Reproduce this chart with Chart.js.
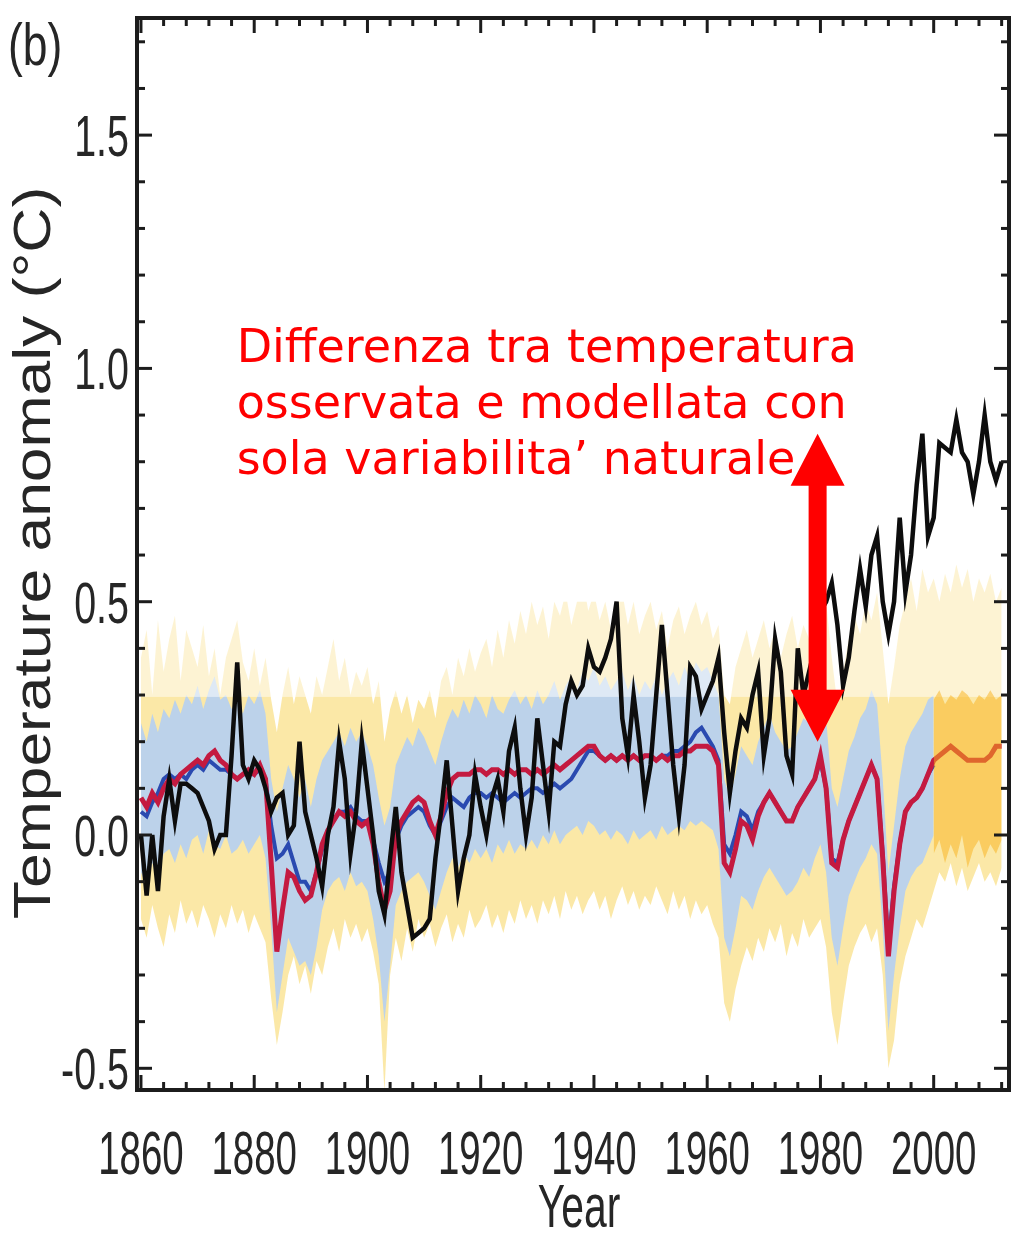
<!DOCTYPE html>
<html>
<head>
<meta charset="utf-8">
<script src="https://cdn.jsdelivr.net/npm/chart.js@4.4.1/dist/chart.umd.min.js"></script>
<style>
html,body{margin:0;padding:0;background:#fff;}
canvas{display:block;}
</style>
</head>
<body>
<canvas id="c" width="1019" height="1239"></canvas>
<script>
// ---------------- DATA ----------------
const YEAR_START = 1860;
const years = Array.from({length: 153}, (_, i) => YEAR_START + i);          // 1860..2012
const yearsModelBlue = Array.from({length: 141}, (_, i) => YEAR_START + i); // 1860..2000
const yearsRecent = Array.from({length: 13}, (_, i) => 2000 + i);           // 2000..2012

// Observed temperature anomaly (black)
const observed = [
  0.00,-0.13,0.00,-0.12,0.04,0.12,0.03,0.11,0.11,0.10,
  0.09,0.06,0.03,-0.03,0.00,0.00,0.17,0.37,0.15,0.12,
  0.16,0.14,0.10,0.05,0.08,0.09,0.00,0.02,0.20,0.05,
  0.00,-0.05,-0.11,0.00,0.06,0.20,0.12,-0.04,0.05,0.20,
  0.10,0.00,-0.12,-0.17,-0.05,0.06,-0.08,-0.15,-0.22,-0.21,
  -0.20,-0.18,-0.05,0.05,0.16,0.02,-0.12,-0.05,0.00,0.13,
  0.06,0.00,0.08,0.12,0.05,0.18,0.23,0.10,0.00,0.08,
  0.25,0.15,0.05,0.20,0.19,0.28,0.33,0.30,0.32,0.40,
  0.36,0.35,0.38,0.42,0.50,0.25,0.17,0.30,0.20,0.08,
  0.15,0.30,0.45,0.30,0.15,0.04,0.15,0.36,0.34,0.27,
  0.30,0.33,0.38,0.22,0.09,0.18,0.25,0.23,0.30,0.35,
  0.17,0.25,0.42,0.35,0.17,0.13,0.40,0.30,0.35,0.40,
  0.48,0.50,0.54,0.45,0.32,0.38,0.48,0.57,0.49,0.60,
  0.64,0.50,0.43,0.50,0.68,0.52,0.60,0.75,0.86,0.64,
  0.68,0.84,0.83,0.82,0.89,0.82,0.80,0.73,0.80,0.90,
  0.80,0.76,0.80
];

// Natural-forcing model mean (red)
const modelMeanRed = [
  0.08,0.06,0.09,0.07,0.10,0.12,0.11,0.13,0.14,0.15,
  0.16,0.15,0.17,0.18,0.16,0.15,0.13,0.12,0.13,0.14,
  0.13,0.15,0.12,-0.06,-0.25,-0.16,-0.08,-0.09,-0.12,-0.14,
  -0.13,-0.08,-0.02,0.01,0.03,0.05,0.04,0.05,0.03,0.02,
  0.03,-0.02,-0.10,-0.16,-0.12,0.00,0.03,0.05,0.07,0.08,
  0.07,0.03,0.00,0.04,0.09,0.12,0.13,0.13,0.13,0.14,
  0.14,0.13,0.14,0.14,0.13,0.14,0.13,0.14,0.14,0.13,
  0.14,0.13,0.14,0.15,0.14,0.15,0.16,0.17,0.18,0.19,
  0.19,0.17,0.16,0.17,0.16,0.17,0.16,0.17,0.16,0.17,
  0.17,0.16,0.17,0.16,0.17,0.17,0.18,0.18,0.19,0.19,
  0.19,0.18,0.15,-0.06,-0.08,-0.03,0.03,0.02,-0.01,0.04,
  0.07,0.09,0.07,0.05,0.03,0.03,0.06,0.08,0.10,0.12,
  0.17,0.10,-0.06,-0.07,-0.01,0.03,0.06,0.09,0.12,0.15,
  0.12,-0.05,-0.26,-0.12,-0.02,0.05,0.07,0.08,0.10,0.13,
  0.16,0.17,0.18,0.19,0.18,0.17,0.16,0.16,0.16,0.16,
  0.17,0.19,0.19
];

// Natural-forcing model mean, second ensemble (blue), 1860-2000
const modelMeanBlue = [
  0.05,0.04,0.07,0.09,0.12,0.13,0.12,0.13,0.12,0.14,
  0.15,0.14,0.16,0.15,0.14,0.14,0.13,0.12,0.13,0.13,
  0.13,0.14,0.12,0.02,-0.05,-0.04,-0.02,-0.06,-0.10,-0.10,
  -0.12,-0.08,-0.03,0.01,0.03,0.05,0.05,0.06,0.04,0.03,
  0.03,-0.01,-0.06,-0.10,-0.08,-0.01,0.02,0.04,0.05,0.06,
  0.05,0.02,0.00,0.03,0.06,0.08,0.07,0.06,0.08,0.09,
  0.09,0.08,0.09,0.08,0.07,0.08,0.09,0.08,0.09,0.10,
  0.10,0.09,0.10,0.11,0.10,0.11,0.12,0.14,0.16,0.18,
  0.18,0.17,0.16,0.17,0.16,0.17,0.16,0.17,0.16,0.17,
  0.17,0.16,0.17,0.17,0.18,0.18,0.19,0.20,0.22,0.23,
  0.21,0.19,0.16,-0.02,-0.04,0.00,0.05,0.04,0.01,0.05,
  0.07,0.09,0.07,0.05,0.03,0.03,0.06,0.08,0.10,0.12,
  0.16,0.10,-0.05,-0.06,-0.01,0.03,0.06,0.09,0.12,0.15,
  0.12,-0.04,-0.24,-0.11,-0.02,0.05,0.07,0.08,0.10,0.13,
  0.15
];

// Envelope of individual simulations (yellow), 1860-2012
const ensembleUpper = [
  0.38,0.44,0.30,0.46,0.35,0.42,0.47,0.33,0.44,0.40,
  0.36,0.45,0.34,0.40,0.30,0.38,0.42,0.46,0.37,0.33,
  0.40,0.32,0.38,0.29,0.22,0.30,0.36,0.28,0.34,0.30,
  0.26,0.34,0.30,0.36,0.42,0.33,0.38,0.30,0.35,0.32,
  0.36,0.28,0.33,0.20,0.27,0.31,0.26,0.30,0.24,0.29,
  0.27,0.31,0.25,0.33,0.36,0.30,0.38,0.34,0.40,0.35,
  0.39,0.42,0.36,0.44,0.38,0.46,0.41,0.48,0.43,0.50,
  0.45,0.49,0.42,0.50,0.47,0.52,0.45,0.50,0.55,0.48,
  0.52,0.46,0.50,0.44,0.49,0.52,0.45,0.50,0.43,0.47,
  0.50,0.44,0.48,0.40,0.46,0.49,0.43,0.47,0.50,0.45,
  0.48,0.42,0.45,0.30,0.28,0.36,0.40,0.44,0.38,0.42,
  0.46,0.40,0.44,0.38,0.43,0.47,0.40,0.45,0.42,0.48,
  0.44,0.50,0.38,0.28,0.35,0.42,0.47,0.43,0.50,0.46,
  0.52,0.40,0.28,0.36,0.45,0.50,0.55,0.48,0.57,0.52,
  0.55,0.50,0.56,0.52,0.58,0.53,0.57,0.50,0.55,0.52,
  0.56,0.50,0.53
];
const ensembleLower = [
  -0.18,-0.22,-0.15,-0.20,-0.24,-0.17,-0.21,-0.14,-0.19,-0.16,
  -0.20,-0.15,-0.18,-0.22,-0.17,-0.20,-0.15,-0.19,-0.16,-0.21,
  -0.17,-0.20,-0.23,-0.35,-0.45,-0.38,-0.30,-0.26,-0.32,-0.28,
  -0.34,-0.27,-0.30,-0.24,-0.20,-0.25,-0.18,-0.22,-0.19,-0.23,
  -0.20,-0.25,-0.32,-0.55,-0.30,-0.22,-0.27,-0.20,-0.25,-0.18,
  -0.22,-0.19,-0.24,-0.20,-0.17,-0.23,-0.19,-0.22,-0.16,-0.20,
  -0.18,-0.15,-0.20,-0.17,-0.21,-0.16,-0.19,-0.14,-0.18,-0.15,
  -0.19,-0.14,-0.17,-0.13,-0.18,-0.12,-0.16,-0.13,-0.17,-0.14,
  -0.12,-0.16,-0.13,-0.18,-0.14,-0.11,-0.15,-0.12,-0.16,-0.13,
  -0.15,-0.11,-0.14,-0.17,-0.12,-0.16,-0.13,-0.18,-0.14,-0.17,
  -0.15,-0.19,-0.22,-0.36,-0.40,-0.33,-0.28,-0.24,-0.27,-0.22,
  -0.25,-0.20,-0.23,-0.19,-0.26,-0.21,-0.24,-0.18,-0.22,-0.20,
  -0.18,-0.24,-0.38,-0.45,-0.36,-0.28,-0.24,-0.21,-0.19,-0.23,
  -0.20,-0.30,-0.50,-0.44,-0.32,-0.26,-0.22,-0.18,-0.20,-0.16,
  -0.12,-0.08,-0.10,-0.06,-0.11,-0.07,-0.12,-0.09,-0.06,-0.10,
  -0.08,-0.11,-0.07
];

// Spread of second ensemble (light blue), 1860-2000
const spreadUpper = [
  0.24,0.20,0.26,0.22,0.27,0.25,0.29,0.26,0.30,0.28,
  0.32,0.27,0.31,0.34,0.29,0.30,0.27,0.29,0.26,0.30,
  0.28,0.31,0.26,0.12,0.05,0.10,0.15,0.12,0.08,0.12,
  0.06,0.12,0.16,0.18,0.20,0.22,0.19,0.23,0.20,0.22,
  0.19,0.15,0.08,0.02,0.06,0.15,0.18,0.21,0.19,0.23,
  0.21,0.18,0.15,0.20,0.24,0.27,0.25,0.29,0.26,0.30,
  0.28,0.25,0.30,0.27,0.26,0.29,0.31,0.28,0.30,0.27,
  0.31,0.28,0.30,0.33,0.29,0.32,0.34,0.31,0.35,0.33,
  0.36,0.32,0.34,0.31,0.33,0.35,0.31,0.34,0.30,0.33,
  0.31,0.34,0.30,0.33,0.35,0.32,0.36,0.33,0.37,0.35,
  0.36,0.33,0.30,0.12,0.08,0.13,0.19,0.17,0.15,0.20,
  0.23,0.26,0.22,0.20,0.18,0.19,0.22,0.25,0.24,0.28,
  0.32,0.25,0.10,0.06,0.12,0.18,0.21,0.25,0.27,0.31,
  0.28,0.12,-0.08,0.02,0.12,0.19,0.22,0.24,0.26,0.29,
  0.30
];
const spreadLower = [
  -0.08,-0.11,-0.06,-0.09,-0.04,-0.03,-0.06,-0.02,-0.05,-0.01,
  0.00,-0.04,0.01,-0.02,-0.03,0.00,-0.04,-0.03,-0.01,-0.04,
  -0.02,0.00,-0.05,-0.20,-0.38,-0.30,-0.22,-0.25,-0.28,-0.27,
  -0.30,-0.24,-0.16,-0.12,-0.10,-0.09,-0.12,-0.08,-0.11,-0.10,
  -0.12,-0.18,-0.26,-0.40,-0.28,-0.15,-0.12,-0.10,-0.09,-0.08,
  -0.10,-0.13,-0.16,-0.12,-0.08,-0.05,-0.07,-0.04,-0.06,-0.03,
  -0.05,-0.03,-0.06,-0.02,-0.04,-0.01,-0.04,-0.02,-0.03,-0.01,
  -0.03,0.00,-0.02,0.01,-0.02,0.00,0.01,0.02,0.00,0.03,
  0.02,0.00,0.01,-0.01,0.01,0.00,-0.02,0.01,-0.01,0.00,
  0.01,-0.01,0.02,0.00,0.01,0.02,0.01,0.03,0.02,0.03,
  0.02,0.01,-0.03,-0.22,-0.26,-0.20,-0.13,-0.14,-0.16,-0.12,
  -0.09,-0.07,-0.09,-0.11,-0.13,-0.12,-0.10,-0.07,-0.09,-0.05,
  -0.02,-0.08,-0.22,-0.28,-0.20,-0.13,-0.10,-0.07,-0.05,-0.02,
  -0.04,-0.20,-0.42,-0.30,-0.20,-0.12,-0.09,-0.07,-0.06,-0.03,
  0.00
];

// Dense part of the ensemble after 2000 (orange)
const recentUpper = [0.29,0.31,0.28,0.30,0.29,0.31,0.30,0.28,0.30,0.29,0.31,0.29,0.30];
const recentLower = [-0.04,-0.01,-0.06,-0.02,-0.05,0.00,-0.07,-0.03,-0.01,-0.05,-0.02,-0.04,-0.01];

// Axes, ticks, labels
const xTickValues = [1860,1880,1900,1920,1940,1960,1980,2000];
const xTickLabels = ['1860','1880','1900','1920','1940','1960','1980','2000'];
const yTickValues = [-0.5,0.0,0.5,1.0,1.5];
const yTickLabels = ['-0.5','0.0','0.5','1.0','1.5'];
const xAxisTitle = 'Year';
const yAxisTitle = 'Temperature anomaly (°C)';
const panelLabel = '(b)';
const annotationLines = ['Differenza tra temperatura', 'osservata e modellata con', "sola variabilita\u2019 naturale"];
const annotationAnchor = {year: 1876.9, value: 1.013};
const arrowSpec = {year: 1979.5, top: 0.86, bottom: 0.20};

// ---------------- CHART ----------------
const pts = (xs, ys) => ys.map((v, i) => ({x: xs[i], y: v}));
const X_MIN = 1859.3, X_MAX = 2013.3, Y_MIN = -0.5465, Y_MAX = 1.751;

function scaledText(ctx, text, x, y, font, sx, align, rot) {
  ctx.save();
  ctx.translate(x, y);
  if (rot) ctx.rotate(rot);
  ctx.scale(sx, 1);
  ctx.font = font;
  ctx.textAlign = align;
  ctx.textBaseline = 'alphabetic';
  ctx.fillText(text, 0, 0);
  ctx.restore();
}

const overlayPlugin = {
  id: 'overlay',
  beforeDatasetDraw(chart, args) {
    if (args.index !== 4) return;
    const {ctx, chartArea: a, scales: {x, y}} = chart;
    ctx.save();
    ctx.beginPath(); ctx.rect(a.left, a.top, a.right - a.left, a.bottom - a.top); ctx.clip();
    // faded upper part
    ctx.fillStyle = 'rgba(255,255,255,0.5)';
    const yFade = y.getPixelForValue(0.296);
    ctx.fillRect(a.left, a.top, a.right - a.left, yFade - a.top);
    // opaque white box behind the annotation
    ctx.fillStyle = '#ffffff';
    const bx0 = x.getPixelForValue(1866.3), bx1 = x.getPixelForValue(1971.6);
    const by1 = y.getPixelForValue(0.5);
    ctx.fillRect(bx0, a.top + 20, bx1 - bx0, by1 - a.top - 20);
    ctx.restore();
  }
};

const decorPlugin = {
  id: 'decor',
  afterDraw(chart) {
    const {ctx, chartArea: a, scales: {x, y}} = chart;
    ctx.save();
    // red double arrow
    const ax = x.getPixelForValue(arrowSpec.year);
    const at = y.getPixelForValue(arrowSpec.top);
    const ab = y.getPixelForValue(arrowSpec.bottom);
    const hw = 27, hl = 52, sw = 9;
    ctx.fillStyle = '#ff0000';
    ctx.beginPath();
    ctx.moveTo(ax, at);
    ctx.lineTo(ax + hw, at + hl);
    ctx.lineTo(ax + sw, at + hl);
    ctx.lineTo(ax + sw, ab - hl);
    ctx.lineTo(ax + hw, ab - hl);
    ctx.lineTo(ax, ab);
    ctx.lineTo(ax - hw, ab - hl);
    ctx.lineTo(ax - sw, ab - hl);
    ctx.lineTo(ax - sw, at + hl);
    ctx.lineTo(ax - hw, at + hl);
    ctx.closePath();
    ctx.fill();

    // annotation text
    ctx.fillStyle = '#ff0000';
    ctx.font = '46px "DejaVu Sans", sans-serif';
    ctx.textAlign = 'left';
    ctx.textBaseline = 'alphabetic';
    const tx = x.getPixelForValue(annotationAnchor.year);
    const ty = y.getPixelForValue(annotationAnchor.value);
    annotationLines.forEach((s, i) => ctx.fillText(s, tx, ty + i * 56));

    // frame ticks (inward)
    ctx.strokeStyle = '#1c1c1c';
    ctx.lineWidth = 3;
    const seg = (x0, y0, x1, y1) => { ctx.beginPath(); ctx.moveTo(x0, y0); ctx.lineTo(x1, y1); ctx.stroke(); };
    for (let yr = 1860; yr <= X_MAX; yr += 4) {
      const px = x.getPixelForValue(yr);
      const len = (yr % 20 === 0) ? 15 : 8;
      seg(px, a.bottom, px, a.bottom - len);
      seg(px, a.top, px, a.top + len);
    }
    for (let k = -5; k <= 17; k++) {
      const py = y.getPixelForValue(k / 10);
      const len = (k % 5 === 0) ? 15 : 8;
      seg(a.left, py, a.left + len, py);
      seg(a.right, py, a.right - len, py);
    }
    ctx.lineWidth = 4;
    ctx.strokeRect(a.left, a.top, a.right - a.left, a.bottom - a.top);

    // labels
    ctx.fillStyle = '#262626';
    xTickValues.forEach((v, i) => {
      scaledText(ctx, xTickLabels[i], x.getPixelForValue(v), 1174, '62px "Liberation Sans", Arial, sans-serif', 0.62, 'center');
    });
    yTickValues.forEach((v, i) => {
      ctx.save();
      ctx.translate(129, y.getPixelForValue(v) + 21);
      ctx.scale(0.68, 1);
      ctx.font = '58px "Liberation Sans", Arial, sans-serif';
      ctx.textAlign = 'right';
      ctx.fillText(yTickLabels[i], 0, 0);
      ctx.restore();
    });
    scaledText(ctx, xAxisTitle, 579, 1227, '61px "Liberation Sans", Arial, sans-serif', 0.67, 'center');
    scaledText(ctx, yAxisTitle, 50, 553, '52px "Liberation Sans", Arial, sans-serif', 1.2, 'center', -Math.PI / 2);
    ctx.save();
    ctx.translate(8, 65); ctx.scale(0.74, 1);
    ctx.font = '60px "Liberation Sans", Arial, sans-serif';
    ctx.textAlign = 'left';
    ctx.fillText(panelLabel, 0, 0);
    ctx.restore();
    ctx.restore();
  }
};

const lineBase = {pointRadius: 0, tension: 0, fill: false};
new Chart(document.getElementById('c'), {
  type: 'line',
  data: {
    datasets: [
      {...lineBase, label: 'Observed', data: pts(years, observed), borderColor: '#0d0d0d', borderWidth: 4.5, order: 0},
      {...lineBase, label: 'recentUpper', data: pts(yearsRecent, recentUpper), borderWidth: 0, borderColor: 'rgba(0,0,0,0)', fill: '+1', backgroundColor: 'rgba(250,178,25,0.5)', order: 1},
      {...lineBase, label: 'recentLower', data: pts(yearsRecent, recentLower), borderWidth: 0, borderColor: 'rgba(0,0,0,0)', order: 1},
      {...lineBase, label: 'Model mean (red)', data: pts(years, modelMeanRed), borderColor: '#c41a40', borderWidth: 5, order: 3},
      {...lineBase, label: 'Model mean (blue)', data: pts(yearsModelBlue, modelMeanBlue), borderColor: '#2a4ab0', borderWidth: 4, order: 4},
      {...lineBase, label: 'spreadUpper', data: pts(yearsModelBlue, spreadUpper), borderWidth: 0, borderColor: 'rgba(0,0,0,0)', fill: '+1', backgroundColor: 'rgba(182,208,240,0.92)', order: 5},
      {...lineBase, label: 'spreadLower', data: pts(yearsModelBlue, spreadLower), borderWidth: 0, borderColor: 'rgba(0,0,0,0)', order: 5},
      {...lineBase, label: 'ensembleUpper', data: pts(years, ensembleUpper), borderWidth: 0, borderColor: 'rgba(0,0,0,0)', fill: '+1', backgroundColor: 'rgba(248,210,80,0.5)', order: 7},
      {...lineBase, label: 'ensembleLower', data: pts(years, ensembleLower), borderWidth: 0, borderColor: 'rgba(0,0,0,0)', order: 7}
    ]
  },
  options: {
    responsive: false,
    animation: false,
    devicePixelRatio: 1,
    layout: {padding: {left: 137, right: 10, top: 18, bottom: 149}},
    plugins: {legend: {display: false}, tooltip: {enabled: false}},
    scales: {
      x: {type: 'linear', min: X_MIN, max: X_MAX, display: false},
      y: {type: 'linear', min: Y_MIN, max: Y_MAX, display: false}
    }
  },
  plugins: [overlayPlugin, decorPlugin]
});
</script>
</body>
</html>
